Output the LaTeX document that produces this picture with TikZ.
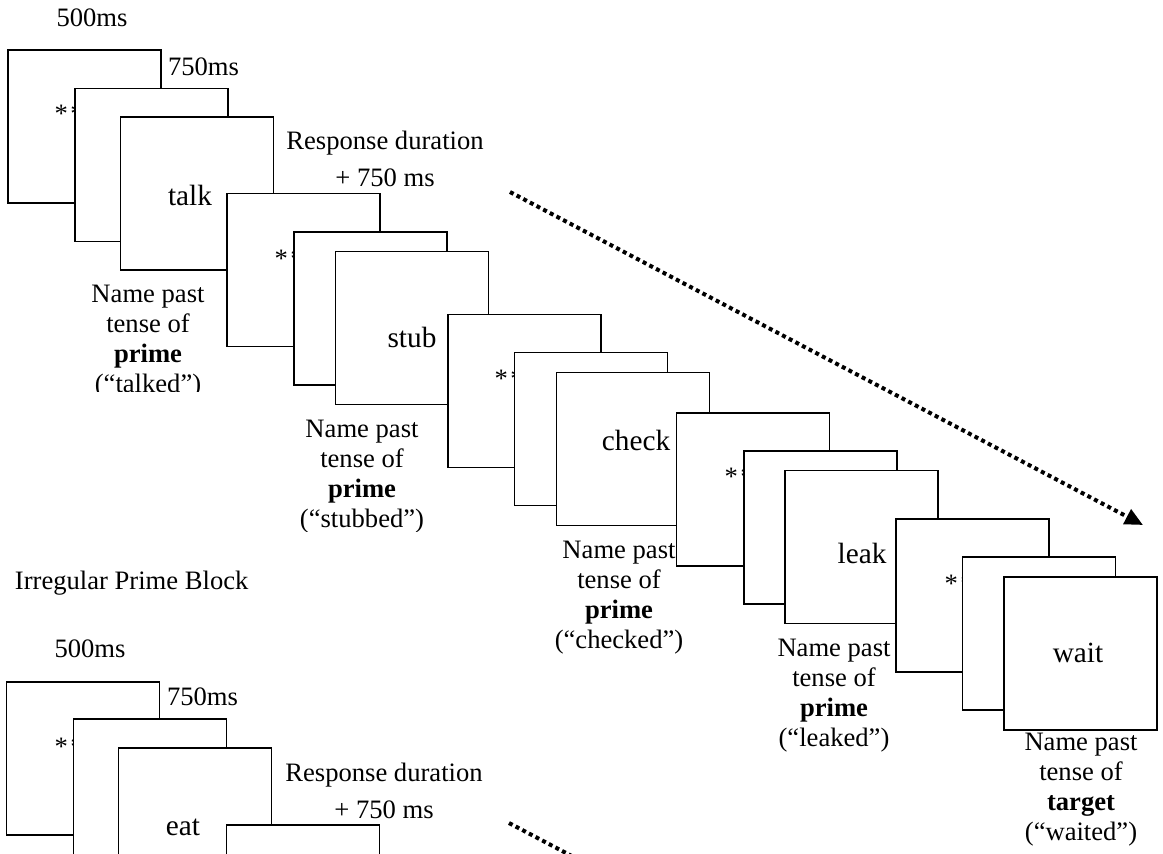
\documentclass[tikz,border=0pt]{standalone}
\usepackage{fontspec}
\setmainfont{Liberation Serif}
\usetikzlibrary{arrows.meta}
\begin{document}
\begin{tikzpicture}[x=1pt,y=-1pt,
  scr/.style={draw, line width=1.8pt, fill=white, minimum width=153pt, minimum height=153pt, inner sep=0pt, outer sep=0pt},
  txt/.style={font=\fontsize{26.6}{30}\selectfont, inner sep=0pt, outer sep=0pt},
  word/.style={font=\fontsize{29.3}{32}\selectfont, inner sep=0pt, outer sep=0pt},
  lbl/.style={txt, align=center},
  astx/.style={txt, anchor=base west},
  dotarrow/.style={line width=4pt, dash pattern=on 4pt off 3.5pt, -{Triangle[length=18pt,width=16pt]}}]
\clip (0,0) rectangle (1163,854);

% ---------- Regular prime block (top) ----------
\node[txt] (t500a) at (92,18) {500ms};
\node[txt, anchor=west] (t750a) at (168,67) {750ms};
\node[txt] (resp1) at (385,143) {Response duration};
\node[txt] (plus1) at (385,178) {+ 750 ms};

\node[scr] (a1) at (84.5,126.5) {};
\node[astx] (s1) at (54.5,122.4) {*\kern2.5pt*};
\node[scr] (b1) at (151.5,165) {};
\node[scr] (c1) at (197,193.5) {};
\node[word] (w1) at (190,195) {talk};

\node[scr] (a2) at (303.5,270) {};
\node[astx] (s2) at (274.5,267.4) {*\kern2.5pt*};
\node[scr] (b2) at (370.5,308.5) {};
\node[scr] (c2) at (412,328) {};
\node[word] (w2) at (412,337) {stub};

\node[scr] (a3) at (524.5,391) {};
\node[astx] (s3) at (494.5,387.4) {*\kern2.5pt*};
\node[scr] (b3) at (591,429) {};
\node[scr] (c3) at (633,449) {};
\node[word] (w3) at (636,440) {check};

\node[scr] (a4) at (753,489.5) {};
\node[astx] (s4) at (724.5,485.4) {*\kern2.5pt*};
\node[scr] (b4) at (820.5,527.5) {};
\node[scr] (c4) at (861.5,547) {};
\node[word] (w4) at (862,553) {leak};

\node[scr] (a5) at (972.5,595.5) {};
\node[astx] (s5) at (944.5,592.4) {*\kern2.5pt*};
\node[scr] (b5) at (1039,633.5) {};
\node[scr] (c5) at (1080.5,653.5) {};
\node[word] (w5) at (1078,653) {wait};

\begin{scope}
  \clip (60,270) rectangle (240,391);
  \node[lbl] (l1) at (148,342) {Name past\\tense of\\\textbf{prime}\\(“talked”)};
\end{scope}
\begin{scope}
  \clip (280,410) rectangle (450,531);
  \node[lbl] (l2) at (362,477) {Name past\\tense of\\\textbf{prime}\\(“stubbed”)};
\end{scope}
\node[lbl] (l3) at (619,598) {Name past\\tense of\\\textbf{prime}\\(“checked”)};
\node[lbl] (l4) at (834,696) {Name past\\tense of\\\textbf{prime}\\(“leaked”)};
\node[lbl] (l5) at (1081,790) {Name past\\tense of\\\textbf{target}\\(“waited”)};

\coordinate (d1s) at (510,192);
\coordinate (d1e) at (1143,525);
\draw[dotarrow] (d1s) -- (d1e);

% ---------- Irregular prime block (bottom) ----------
\node[txt, anchor=west] (irr) at (15,583) {Irregular Prime Block};
\node[txt] (t500b) at (90,649) {500ms};
\node[txt, anchor=west] (t750b) at (167,697) {750ms};
\node[txt] (resp2) at (384,775) {Response duration};
\node[txt] (plus2) at (384,810) {+ 750 ms};

\node[scr] (a6) at (83,758.5) {};
\node[astx] (s6) at (54.5,755.4) {*\kern2.5pt*};
\node[scr] (b6) at (150,795.5) {};
\node[scr] (c6) at (195,824.5) {};
\node[word] (w6) at (183,827) {eat};
\node[scr] (a7) at (303,901.5) {};

\coordinate (d2s) at (509,823);
\coordinate (d2e) at (620,881.4);
\draw[line width=4pt, dash pattern=on 4pt off 3.5pt] (d2s) -- (d2e);
\end{tikzpicture}
\end{document}
